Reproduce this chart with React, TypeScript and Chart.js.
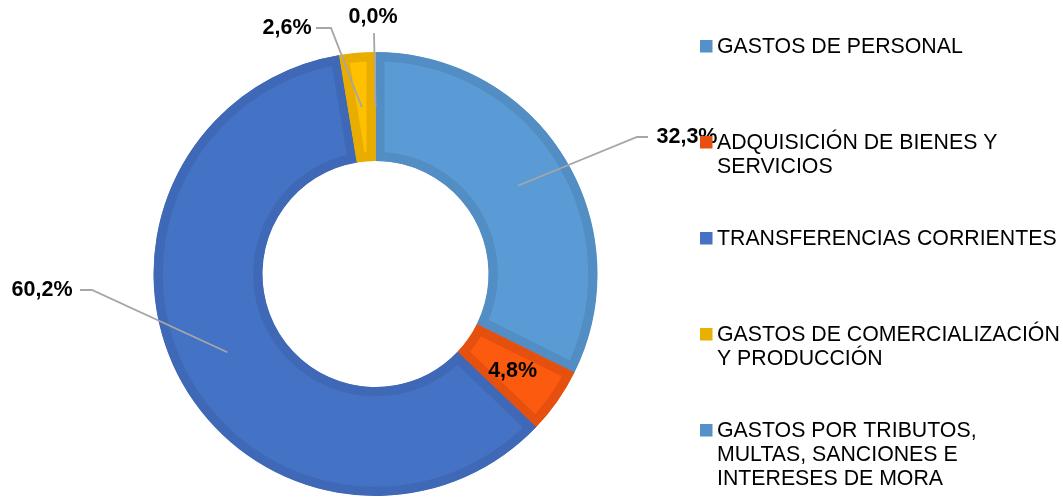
import React, { useEffect, useRef } from "react";
import { Chart, registerables } from "chart.js";

Chart.register(...registerables);

const categories: string[][] = [
  ["GASTOS DE PERSONAL"],
  ["ADQUISICIÓN DE BIENES Y", "SERVICIOS"],
  ["TRANSFERENCIAS CORRIENTES"],
  ["GASTOS DE COMERCIALIZACIÓN", "Y PRODUCCIÓN"],
  ["GASTOS POR TRIBUTOS,", "MULTAS, SANCIONES E", "INTERESES DE MORA"],
];
const values: number[] = [32.3, 4.8, 60.2, 2.6, 0.0];
const valueLabels: string[] = ["32,3%", "4,8%", "60,2%", "2,6%", "0,0%"];

const fillColors = ["#5B9BD5", "#FC5A0F", "#4472C4", "#FFC000", "#5B9BD5"];
const borderColors = ["#528DC4", "#E6500E", "#3F69B7", "#E8AD00", "#528DC4"];
const legendColors = ["#5590C8", "#E8500F", "#4472C4", "#E8B000", "#5590C8"];

// label placement relative to chart centre: mode, elbow, line end, text anchor
type Place = { mode: string; ex?: number; ey?: number; lx?: number; ly?: number; tx?: number; ty?: number; align?: CanvasTextAlign };
const placements: Place[] = [
  { mode: "leader", ex: 261.5, ey: -137, lx: 272.5, ly: -137, tx: 281, ty: -137, align: "left" },
  { mode: "inside" },
  { mode: "leader", ex: -283.5, ey: 16, lx: -295.5, ly: 16, tx: -303, ty: 16, align: "right" },
  { mode: "leader", ex: -44.5, ey: -246, lx: -59.5, ly: -246, tx: -64, ty: -246, align: "right" },
  { mode: "vertical", ex: -1.5, ey: -241, tx: -2.5, ty: -257, align: "center" },
];

const FONT = '"Liberation Sans", Arial, sans-serif';

const overlayPlugin = {
  id: "overlay",
  afterDraw(chart: any) {
    const ctx: CanvasRenderingContext2D = chart.ctx;
    const meta = chart.getDatasetMeta(0);
    ctx.save();
    meta.data.forEach((arc: any, i: number) => {
      const p = arc.getProps(["x", "y", "startAngle", "endAngle", "innerRadius", "outerRadius"], true);
      const mid = (p.startAngle + p.endAngle) / 2;
      const r = (p.innerRadius + p.outerRadius) / 2;
      const ax = p.x + Math.cos(mid) * r;
      const ay = p.y + Math.sin(mid) * r;
      const pl = placements[i];
      ctx.font = `bold 21.5px ${FONT}`;
      ctx.fillStyle = "#000";
      ctx.textBaseline = "middle";
      if (pl.mode === "inside") {
        ctx.textAlign = "center";
        ctx.fillText(valueLabels[i], ax, ay + 1);
        return;
      }
      ctx.strokeStyle = "#A6A6A6";
      ctx.lineWidth = 1.8;
      ctx.beginPath();
      ctx.moveTo(ax, ay);
      ctx.lineTo(p.x + (pl.ex as number), p.y + (pl.ey as number));
      if (pl.mode === "leader") ctx.lineTo(p.x + (pl.lx as number), p.y + (pl.ly as number));
      ctx.stroke();
      ctx.textAlign = pl.align as CanvasTextAlign;
      ctx.fillText(valueLabels[i], p.x + (pl.tx as number), p.y + (pl.ty as number));
    });

    // legend
    const lx = 700;
    const startY = 46;
    const step = 96;
    const lineH = 24;
    ctx.font = `21.3px ${FONT}`;
    ctx.textAlign = "left";
    ctx.textBaseline = "middle";
    categories.forEach((lines, i) => {
      const y = startY + i * step;
      ctx.fillStyle = legendColors[i];
      ctx.fillRect(lx, y - 6, 12.5, 12.5);
      ctx.fillStyle = "#000";
      lines.forEach((t, j) => ctx.fillText(t, lx + 17, y + j * lineH + 1));
    });
    ctx.restore();
  },
};

export default function App() {
  const ref = useRef<HTMLCanvasElement | null>(null);
  useEffect(() => {
    document.body.style.margin = "0";
    const canvas = ref.current as HTMLCanvasElement;
    const chart = new Chart(canvas, {
      type: "doughnut",
      data: {
        labels: categories,
        datasets: [
          {
            data: values,
            backgroundColor: fillColors,
            borderColor: borderColors,
            borderWidth: 9,
            borderAlign: "inner",
            hoverOffset: 0,
          } as any,
        ],
      },
      options: {
        animation: false,
        responsive: false,
        maintainAspectRatio: false,
        radius: 222,
        cutout: 113,
        layout: { padding: { left: 153, right: 465, top: 52, bottom: 1 } },
        plugins: {
          legend: { display: false },
          tooltip: { enabled: false },
        },
        events: [],
      } as any,
      plugins: [overlayPlugin],
    });
    return () => chart.destroy();
  }, []);
  return <canvas ref={ref} width={1063} height={497} style={{ display: "block" }} />;
}
